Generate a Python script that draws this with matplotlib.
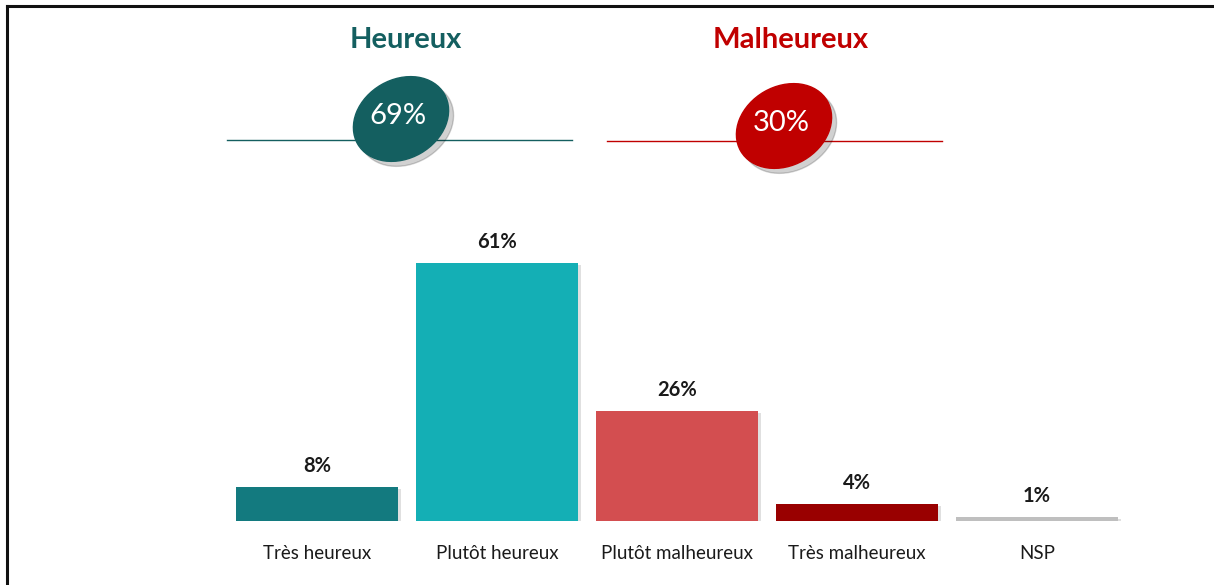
import matplotlib.pyplot as plt
from matplotlib.patches import Ellipse
from matplotlib.lines import Line2D

categories = ["Très heureux", "Plutôt heureux", "Plutôt malheureux", "Très malheureux", "NSP"]
values = [8, 61, 26, 4, 1]
bar_colors = ["#137A7F", "#14AFB5", "#D34E50", "#990000", "#BFBFBF"]

groups = ["Heureux", "Malheureux"]
group_totals = [69, 30]
group_colors = ["#145F60", "#C00000"]

plt.rcParams['font.family'] = ['Lato', 'DejaVu Sans']

W, H = 1214, 585
fig = plt.figure(figsize=(W / 100, H / 100), dpi=100)

# bars
ax = fig.add_axes([227 / W, 64 / H, 900 / W, 296 / H])
xs = range(len(categories))
# slight drop shadow
ax.bar([x + 0.02 for x in xs], values, width=0.895, bottom=-0.5, color="#000000", alpha=0.12, zorder=1)
ax.bar(xs, values, width=0.895, color=bar_colors, zorder=2)
for x, v in zip(xs, values):
    ax.text(x, v + 2.6, f"{v}%", ha="center", va="bottom", fontsize=14.5, fontweight="bold", color="#1a1a1a")
ax.set_xlim(-0.5, 4.5)
ax.set_ylim(0, 70)
ax.set_xticks(list(xs))
ax.set_xticklabels(categories, fontsize=13.5, color="#1a1a1a")
ax.tick_params(axis="x", length=0, pad=17)
ax.set_yticks([])
for s in ax.spines.values():
    s.set_visible(False)
ax.patch.set_alpha(0)

# top summary part, pixel coordinates
top = fig.add_axes([0, 0, 1, 1], zorder=-1)
top.set_xlim(0, W)
top.set_ylim(H, 0)
top.axis("off")

title_x = [406, 791]
line_spans = [(227, 572), (607, 942)]
line_y = [140, 141]
ell_xy = [(401, 119), (784, 126)]
for g, tot, c, tx, (x0, x1), ly, (ex, ey) in zip(groups, group_totals, group_colors,
                                                  title_x, line_spans, line_y, ell_xy):
    top.text(tx, 40, g, ha="center", va="center", fontsize=21, fontweight="bold", color=c)
    top.add_line(Line2D([x0, x1], [ly, ly], color=c, lw=1))
    top.add_patch(Ellipse((ex + 5, ey + 5), 100, 79, angle=-30, color="#000000", alpha=0.18, zorder=3))
    top.add_patch(Ellipse((ex, ey), 100, 79, angle=-30, color=c, zorder=4))
    top.text(ex - 3, ey - 3, f"{tot}%", ha="center", va="center", fontsize=21, color="white", zorder=5)

# frame lines at top and left
top.add_line(Line2D([7, W], [6, 6], color="#111111", lw=2.2))
top.add_line(Line2D([7, 7], [6, H], color="#111111", lw=2.2))

fig.savefig("out.png", dpi=100, facecolor="white")
